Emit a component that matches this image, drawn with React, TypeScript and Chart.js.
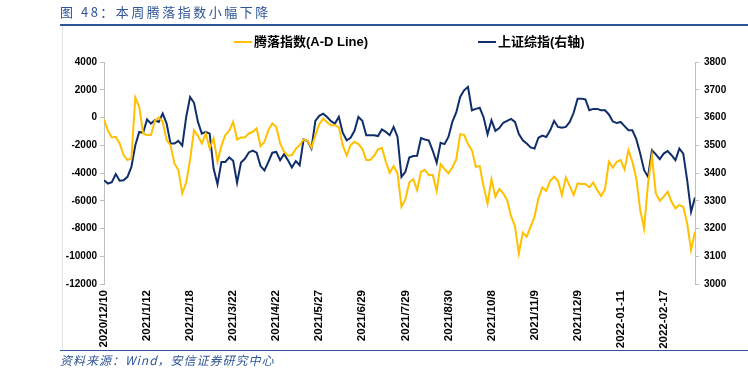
import React, { useEffect, useRef } from "react";
import { Chart, registerables } from "chart.js";
Chart.register(...registerables);

const titleText = "图 48：本周腾落指数小幅下降";
const sourceText = "资料来源：Wind，安信证券研究中心";
const seriesNames = ["腾落指数(A-D Line)", "上证综指(右轴)"];

const tickIndex = [0, 11, 22, 33, 44, 55, 66, 77, 88, 99, 110, 121, 132, 143];
const tickLabels = [
  "2020/12/10", "2021/1/12", "2021/2/18", "2021/3/22", "2021/4/22", "2021/5/27",
  "2021/6/29", "2021/7/29", "2021/8/30", "2021/10/8", "2021/11/9", "2021/12/9",
  "2022-01-11", "2022-02-17",
];

const adLine = [
  -150, -960, -1440, -1390, -1870, -2710, -3070, -2950, 1440, 770,
  -1150, -1270, -1270, -240, 0, -310, -1630, -1990, -3310, -3790,
  -5470, -4700, -3020, -910, -1320, -1870, -1150, -2230, -1510, -3190,
  -2040, -1270, -960, -310, -1580, -1440, -1440, -1150, -1030, -790,
  -2060, -1750, -910, -430, -670, -1870, -2470, -2760, -2710, -2260,
  -1990, -1580, -1680, -2160, -1270, -480, -70, -360, -550, -550,
  -700, -1990, -2740, -1990, -1750, -1920, -2260, -3070, -3070, -2760,
  -2300, -2180, -3190, -3990, -3500, -4030, -6430, -5900, -4680, -4440,
  -5230, -3910, -3770, -4150, -4150, -5300, -3360, -3700, -4030, -3600,
  -3020, -1200, -1250, -1920, -2350, -3550, -3500, -5000, -6200, -4440,
  -5710, -5160, -5470, -5950, -7110, -7830, -9800, -8300, -8590, -7870,
  -7150, -5830, -5040, -5280, -4560, -4270, -4580, -5590, -4320, -4940,
  -5590, -4750, -4800, -4800, -5040, -4680, -5230, -5660, -5180, -3190,
  -3600, -3190, -3070, -3740, -2350, -3190, -4390, -6670, -8000, -4750,
  -2780, -5470, -6000, -5710, -5350, -6070, -6550, -6310, -6430, -7630,
  -9560, -8230,
];

const shIndex = [
  3374, 3362, 3367, 3396, 3372, 3374, 3386, 3422, 3500, 3548,
  3545, 3593, 3578, 3590, 3584, 3614, 3578, 3506, 3506, 3516,
  3499, 3602, 3674, 3653, 3584, 3542, 3548, 3542, 3416, 3360,
  3440, 3440, 3456, 3444, 3365, 3438, 3451, 3474, 3481, 3473,
  3425, 3409, 3440, 3473, 3476, 3446, 3468, 3446, 3420, 3443,
  3428, 3521, 3515, 3488, 3588, 3606, 3614, 3602, 3587, 3578,
  3602, 3545, 3518, 3527, 3552, 3602, 3588, 3536, 3536, 3536,
  3533, 3557, 3548, 3536, 3566, 3530, 3386, 3404, 3456, 3461,
  3462, 3526, 3521, 3517, 3480, 3437, 3509, 3504, 3530, 3584,
  3618, 3674, 3698, 3710, 3626, 3631, 3635, 3600, 3540, 3590,
  3552, 3562, 3581, 3588, 3595, 3584, 3540, 3518, 3506, 3492,
  3488, 3527, 3535, 3530, 3554, 3588, 3566, 3563, 3566, 3584,
  3617, 3668, 3668, 3665, 3626, 3631, 3631, 3626, 3626, 3611,
  3586, 3580, 3584, 3569, 3554, 3554, 3522, 3470, 3410, 3386,
  3482, 3467, 3450, 3470, 3479, 3464, 3446, 3488, 3470, 3374,
  3260, 3312,
];

const YELLOW = "#FFC000";
const NAVY = "#102E6A";
const BLUE = "#2F5597";
const AXIS_GRAY = "#BFBFBF";

export default function App() {
  const ref = useRef<HTMLCanvasElement | null>(null);

  useEffect(() => {
    if (!ref.current) return;
    const tickFont = { family: "'Liberation Sans', Arial, sans-serif", size: 10, weight: "bold" as const };
    const chart = new Chart(ref.current, {
      type: "line",
      data: {
        datasets: [
          {
            label: seriesNames[0],
            data: adLine.map((v, i) => ({ x: i, y: v })),
            borderColor: YELLOW,
            borderWidth: 2,
            pointRadius: 0,
            tension: 0,
            yAxisID: "yL",
          },
          {
            label: seriesNames[1],
            data: shIndex.map((v, i) => ({ x: i, y: v })),
            borderColor: NAVY,
            borderWidth: 2,
            pointRadius: 0,
            tension: 0,
            yAxisID: "yR",
          },
        ],
      },
      options: {
        animation: false,
        responsive: false,
        maintainAspectRatio: false,
        layout: { padding: { top: 62, left: 0, right: 0, bottom: 0 } },
        plugins: { legend: { display: false }, tooltip: { enabled: false } },
        scales: {
          x: {
            type: "linear",
            min: 0,
            max: adLine.length - 1,
            offset: false,
            grid: { display: false, drawTicks: false },
            border: { display: false },
            afterBuildTicks: (scale: any) => {
              scale.ticks = tickIndex.map((v) => ({ value: v }));
            },
            afterFit: (scale: any) => {
              scale.height = 91;
            },
            ticks: {
              autoSkip: false,
              minRotation: 90,
              maxRotation: 90,
              padding: 6,
              color: "#000",
              font: { family: "'Liberation Sans', Arial, sans-serif", size: 11.5, weight: "bold" },
              callback: (v: any) => {
                const k = tickIndex.indexOf(Number(v));
                return k >= 0 ? tickLabels[k] : "";
              },
            },
          },
          yL: {
            type: "linear",
            position: "left",
            min: -12000,
            max: 4000,
            grid: { display: true, drawOnChartArea: false, drawTicks: true, tickLength: 4, color: AXIS_GRAY },
            border: { display: true, color: AXIS_GRAY, width: 1 },
            afterFit: (scale: any) => {
              scale.width = 104;
            },
            ticks: {
              stepSize: 2000,
              padding: 3,
              color: "#000",
              font: tickFont,
              callback: (v: any) => String(v),
            },
          },
          yR: {
            type: "linear",
            position: "right",
            min: 3000,
            max: 3800,
            grid: { display: true, drawOnChartArea: false, drawTicks: true, tickLength: 4, color: AXIS_GRAY },
            border: { display: true, color: AXIS_GRAY, width: 1 },
            afterFit: (scale: any) => {
              scale.width = 53;
            },
            ticks: {
              stepSize: 100,
              padding: 5,
              color: "#000",
              font: tickFont,
              callback: (v: any) => String(v),
            },
          },
        },
      },
    });
    return () => chart.destroy();
  }, []);

  const legendText: React.CSSProperties = {
    position: "absolute",
    top: 33,
    fontFamily: "'Liberation Sans', 'Noto Sans CJK SC', Arial, sans-serif",
    fontWeight: "bold",
    fontSize: 13,
    color: "#000",
    whiteSpace: "nowrap",
    lineHeight: "18px",
  };

  return (
    <div style={{ position: "fixed", left: 0, top: 0, width: 748, height: 375, background: "#fff", overflow: "hidden" }}>
      <canvas ref={ref} width={748} height={375} style={{ position: "absolute", left: 0, top: 0, width: 748, height: 375 }} />
      <div
        style={{
          position: "absolute",
          left: 60,
          top: 2,
          fontFamily: "'Noto Sans CJK SC', sans-serif",
          fontSize: 13,
          letterSpacing: 2.5,
          color: BLUE,
          whiteSpace: "nowrap",
          lineHeight: "20px",
        }}
      >
        {titleText}
      </div>
      <div style={{ position: "absolute", left: 60, top: 24, width: 688, height: 1.5, background: BLUE }} />
      <div style={{ position: "absolute", left: 62, top: 26, width: 1, height: 323, background: "#E4E4E4" }} />
      <div style={{ position: "absolute", left: 234, top: 41, width: 18, height: 2, background: YELLOW }} />
      <div style={{ ...legendText, left: 254 }}>{seriesNames[0]}</div>
      <div style={{ position: "absolute", left: 478, top: 41, width: 18, height: 2, background: NAVY }} />
      <div style={{ ...legendText, left: 498 }}>{seriesNames[1]}</div>
      <div style={{ position: "absolute", left: 60, top: 350, width: 688, height: 1, background: BLUE }} />
      <div
        style={{
          position: "absolute",
          left: 60,
          top: 352,
          fontFamily: "'Noto Sans CJK SC', 'Liberation Sans', sans-serif",
          fontStyle: "italic",
          fontSize: 12,
          letterSpacing: 1,
          color: BLUE,
          whiteSpace: "nowrap",
          lineHeight: "16px",
        }}
      >
        {sourceText}
      </div>
    </div>
  );
}
